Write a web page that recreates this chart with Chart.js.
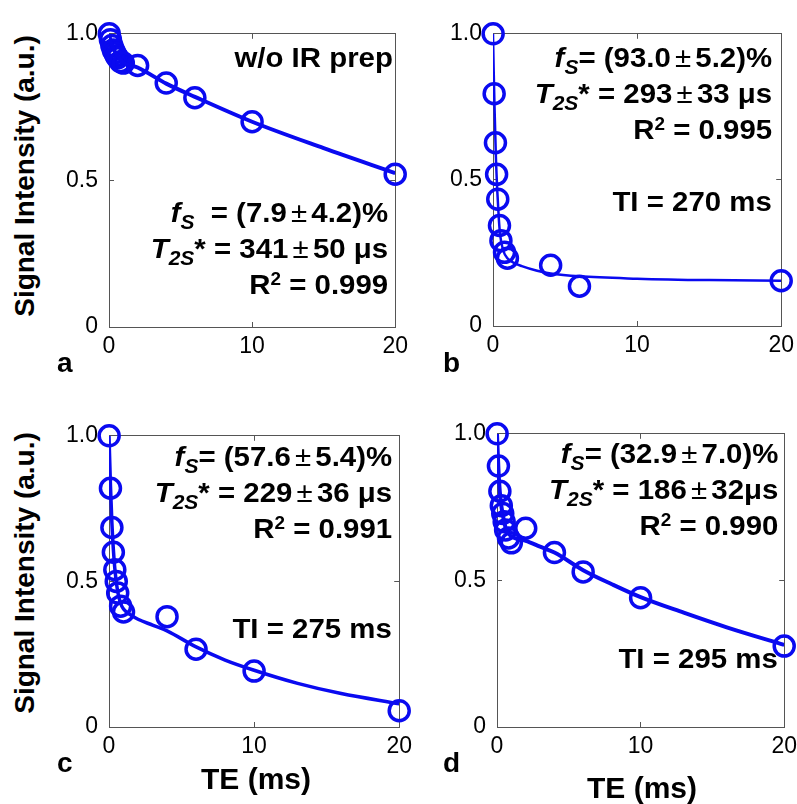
<!DOCTYPE html>
<html>
<head>
<meta charset="utf-8">
<script src="https://cdn.jsdelivr.net/npm/chart.js@4.4.1/dist/chart.umd.min.js"></script>
<style>
  body { margin: 0; background: #fff; }
  #wrap { position: relative; width: 797px; height: 804px; overflow: hidden; background: #fff;
          font-family: "Liberation Sans", Arial, sans-serif; color: #000; }
  canvas { position: absolute; }
  .txt { position: absolute; font-weight: bold; font-size: 28px; line-height: 33px;
         white-space: nowrap; text-align: right; z-index: 2;
         transform: scaleX(1.05); transform-origin: right center; }
  .sub { font-size: 20px; position: relative; top: 7px; font-style: italic; }
  .sup { font-size: 18px; position: relative; top: -9px; }
  .pm { font-weight: normal; margin: 0 4px; }
  .ylab { position: absolute; font-weight: bold; font-size: 28px; line-height: 32px; white-space: nowrap;
          transform: translate(-50%, -50%) rotate(-90deg); z-index: 2; }
  .xlab { position: absolute; font-weight: bold; font-size: 30px; line-height: 34px; white-space: nowrap;
          transform: translate(-50%, -50%); z-index: 2; }
  .letter { position: absolute; font-weight: bold; font-size: 28px; line-height: 28px; z-index: 2; }
</style>
</head>
<body>
<div id="wrap">
  <canvas id="pa"></canvas>
  <canvas id="pb"></canvas>
  <canvas id="pc"></canvas>
  <canvas id="pd"></canvas>

  <!-- panel a -->
  <div class="txt" style="right:404px; top:41px;">w/o IR prep</div>
  <div class="txt" style="right:409px; top:196px;">
    <div><i>f</i><span class="sub">S</span>&nbsp; = (7.9<span class="pm">±</span>4.2)%</div>
    <div><i>T</i><span class="sub">2S</span>* = 341<span class="pm">±</span>50 μs</div>
    <div>R<span class="sup">2</span> = 0.999</div>
  </div>
  <!-- panel b -->
  <div class="txt" style="right:25px; top:41px;">
    <div><i>f</i><span class="sub">S</span>= (93.0<span class="pm">±</span>5.2)%</div>
    <div><i>T</i><span class="sub">2S</span>* = 293<span class="pm">±</span>33 μs</div>
    <div>R<span class="sup">2</span> = 0.995</div>
  </div>
  <div class="txt" style="right:25px; top:185px;">TI = 270 ms</div>
  <!-- panel c -->
  <div class="txt" style="right:405px; top:440px;">
    <div><i>f</i><span class="sub">S</span>= (57.6<span class="pm">±</span>5.4)%</div>
    <div><i>T</i><span class="sub">2S</span>* = 229<span class="pm">±</span>36 μs</div>
    <div>R<span class="sup">2</span> = 0.991</div>
  </div>
  <div class="txt" style="right:405px; top:612px;">TI = 275 ms</div>
  <!-- panel d -->
  <div class="txt" style="right:19px; top:437px;">
    <div><i>f</i><span class="sub">S</span>= (32.9<span class="pm">±</span>7.0)%</div>
    <div><i>T</i><span class="sub">2S</span>* = 186<span class="pm">±</span>32μs</div>
    <div>R<span class="sup">2</span> = 0.990</div>
  </div>
  <div class="txt" style="right:19px; top:642px;">TI = 295 ms</div>

  <div class="ylab" style="left:25px; top:176px;">Signal Intensity (a.u.)</div>
  <div class="ylab" style="left:25px; top:573px;">Signal Intensity (a.u.)</div>
  <div class="xlab" style="left:256px; top:779px;">TE (ms)</div>
  <div class="xlab" style="left:642px; top:788px;">TE (ms)</div>

  <div class="letter" style="left:57px; top:349px;">a</div>
  <div class="letter" style="left:443px; top:349px;">b</div>
  <div class="letter" style="left:57px; top:749px;">c</div>
  <div class="letter" style="left:443px; top:749px;">d</div>
</div>

<script>
const xTicks = [0, 10, 20];
const xTickLabels = ["0", "10", "20"];
const yTicks = [0, 0.5, 1];
const yTickLabels = ["0", "0.5", "1.0"];

// a: w/o IR prep
const teA = [0.02, 0.1, 0.2, 0.3, 0.4, 0.5, 0.6, 0.8, 1.0, 2, 4, 6, 10, 20];
const siA = [1.0, 0.98, 0.96, 0.945, 0.935, 0.925, 0.918, 0.905, 0.9, 0.892, 0.832, 0.782, 0.70, 0.521];
const fitTeA = [0, 0.1, 0.2, 0.4, 0.6, 0.8, 1, 2, 4, 6, 10, 15, 20];
const fitA = [1.0, 0.978, 0.962, 0.94, 0.925, 0.912, 0.902, 0.885, 0.83, 0.785, 0.70, 0.61, 0.525];

// b: TI = 270 ms
const teB = [0.01, 0.08, 0.17, 0.25, 0.33, 0.45, 0.55, 0.8, 1.0, 4, 6, 20];
const siB = [1.0, 0.795, 0.627, 0.519, 0.434, 0.344, 0.292, 0.252, 0.232, 0.208, 0.136, 0.155];
const fitTeB = [0, 0.05, 0.1, 0.2, 0.3, 0.4, 0.5, 0.7, 1.0, 1.5, 2, 3, 4, 6, 10, 15, 20];
const fitB = [1.0, 0.87, 0.76, 0.58, 0.46, 0.37, 0.31, 0.26, 0.232, 0.215, 0.205, 0.19, 0.18, 0.17, 0.162, 0.157, 0.155];

// c: TI = 275 ms
const teC = [0.01, 0.1, 0.2, 0.3, 0.4, 0.5, 0.6, 0.8, 1.0, 4, 6, 10, 20];
const siC = [1.0, 0.82, 0.685, 0.60, 0.54, 0.50, 0.46, 0.415, 0.395, 0.379, 0.267, 0.192, 0.056];
const fitTeC = [0, 0.1, 0.2, 0.3, 0.4, 0.5, 0.6, 0.8, 1, 1.5, 2, 3, 4, 6, 8, 10, 13, 16, 20];
const fitC = [1.0, 0.83, 0.70, 0.61, 0.545, 0.50, 0.465, 0.425, 0.405, 0.385, 0.37, 0.35, 0.33, 0.275, 0.23, 0.195, 0.15, 0.115, 0.08];

// d: TI = 295 ms
const teD = [0.01, 0.1, 0.2, 0.3, 0.4, 0.5, 0.6, 0.8, 1.0, 2, 4, 6, 10, 20];
const siD = [1.0, 0.89, 0.804, 0.755, 0.728, 0.70, 0.672, 0.645, 0.628, 0.678, 0.595, 0.529, 0.441, 0.276];
const fitTeD = [0, 0.1, 0.2, 0.3, 0.4, 0.5, 0.6, 0.8, 1, 1.5, 2, 3, 4, 6, 8, 10, 13, 16, 20];
const fitD = [1.0, 0.88, 0.80, 0.755, 0.725, 0.70, 0.68, 0.66, 0.65, 0.64, 0.635, 0.615, 0.595, 0.535, 0.487, 0.443, 0.39, 0.34, 0.28];

const BLUE = "#0a0af0";
const AXIS = "#555";
const tickFont = { family: "Liberation Sans", size: 23 };

function pts(xs, ys) {
    return xs.map((x, i) => ({ x: x, y: ys[i] }));
}

function scale(which, pos, size, showLabels) {
    const isX = which === "x";
    const vals = isX ? xTicks : yTicks;
    const labels = isX ? xTickLabels : yTickLabels;
    return {
        type: "linear",
        axis: which,
        position: pos,
        min: 0,
        max: isX ? 20 : 1,
        afterBuildTicks: s => { s.ticks = vals.map(v => ({ value: v })); },
        afterFit: s => { if (isX) s.height = size; else s.width = size; },
        ticks: {
            display: showLabels,
            autoSkip: false,
            maxRotation: 0,
            color: "#000",
            font: tickFont,
            padding: isX ? 11 : 16,
            callback: v => labels[vals.indexOf(v)]
        },
        grid: { drawOnChartArea: false, drawTicks: true, tickLength: -5, color: AXIS, lineWidth: 1 },
        border: { display: true, color: AXIS, width: 1 }
    };
}

// box = plot area [left, top, right, bottom] in page pixels
function makePanel(id, box, te, si, fitTe, fit, lw) {
    const padL = 60, padT = 20, padR = 20, padB = 45;
    const cv = document.getElementById(id);
    cv.width = box[2] - box[0] + padL + padR;
    cv.height = box[3] - box[1] + padT + padB;
    cv.style.left = (box[0] - padL) + "px";
    cv.style.top = (box[1] - padT) + "px";

    new Chart(cv, {
        type: "scatter",
        data: {
            datasets: [
                {
                    type: "line",
                    data: pts(fitTe, fit),
                    borderColor: BLUE,
                    borderWidth: lw,
                    pointRadius: 0,
                    fill: false,
                    cubicInterpolationMode: "monotone"
                },
                {
                    data: pts(te, si),
                    showLine: false,
                    pointRadius: 10,
                    pointBorderWidth: 3.5,
                    pointBorderColor: BLUE,
                    pointBackgroundColor: "rgba(0,0,0,0)",
                    clip: false
                }
            ]
        },
        options: {
            responsive: false,
            animation: false,
            layout: { padding: 0 },
            plugins: { legend: { display: false }, tooltip: { enabled: false } },
            scales: {
                x: scale("x", "bottom", padB, true),
                x2: scale("x", "top", padT, false),
                y: scale("y", "left", padL, true),
                y2: scale("y", "right", padR, false)
            }
        }
    });
}

makePanel("pa", [109, 24, 399, 327], teA, siA, fitTeA, fitA, 4);
makePanel("pb", [493, 24, 785, 326], teB, siB, fitTeB, fitB, 2.5);
makePanel("pc", [109, 426, 403, 727], teC, siC, fitTeC, fitC, 3.5);
makePanel("pd", [497, 424, 788, 727], teD, siD, fitTeD, fitD, 4);
</script>
</body>
</html>
